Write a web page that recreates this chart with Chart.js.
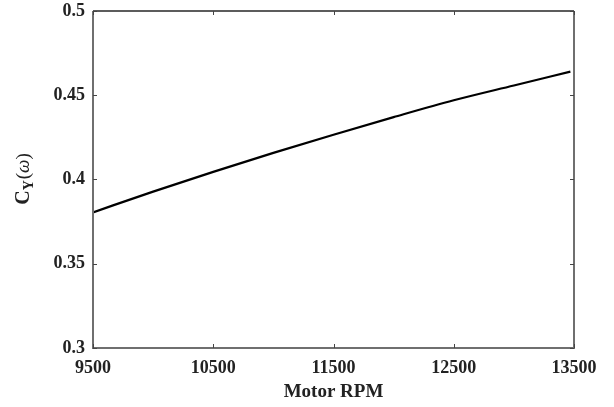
<!DOCTYPE html>
<html>
<head>
<meta charset="utf-8">
<script src="https://cdn.jsdelivr.net/npm/chart.js@4.4.1/dist/chart.umd.min.js"></script>
<style>
  html, body { margin: 0; padding: 0; background: #fff; }
  #wrap { width: 614px; height: 407px; }
</style>
</head>
<body>
<div id="wrap"><canvas id="chart"></canvas></div>
<script>
// values
var rpm = [9500, 10000, 10500, 11000, 11500, 12000, 12500, 13000, 13470];
var cy = [0.3805, 0.3928, 0.4045, 0.4158, 0.4266, 0.4370, 0.4470, 0.4558, 0.4640];

var xTicks = [9500, 10500, 11500, 12500, 13500];
var yTicks = [0.3, 0.35, 0.4, 0.45, 0.5];
var yTickLabels = ['0.3', '0.35', '0.4', '0.45', '0.5'];

var SERIF = '"Liberation Serif", "Times New Roman", serif';

// box + inward ticks, matlab style
var boxPlugin = {
	id: 'box',
	afterDraw: function(chart){
		var ctx = chart.ctx, a = chart.chartArea;
		var xs = chart.scales.x, ys = chart.scales.y;
		ctx.save();
		ctx.strokeStyle = '#6f6f6f';
		ctx.lineWidth = 2;
		ctx.beginPath();
		ctx.moveTo(a.left, a.top);
		ctx.lineTo(a.left, a.bottom);
		ctx.lineTo(a.right, a.bottom);
		ctx.lineTo(a.right, a.top);
		ctx.stroke();
		ctx.strokeStyle = '#262626';
		ctx.lineWidth = 1.5;
		ctx.beginPath();
		ctx.moveTo(a.left, a.top);
		ctx.lineTo(a.right, a.top);
		ctx.stroke();

		ctx.strokeStyle = '#444';
		ctx.lineWidth = 1;
		ctx.beginPath();
		xTicks.forEach(function(v){
			var px = Math.round(xs.getPixelForValue(v)) + 0.5;
			ctx.moveTo(px, a.bottom); ctx.lineTo(px, a.bottom - 4);
			ctx.moveTo(px, a.top); ctx.lineTo(px, a.top + 4);
		});
		yTicks.forEach(function(v){
			var py = Math.round(ys.getPixelForValue(v)) + 0.5;
			ctx.moveTo(a.left, py); ctx.lineTo(a.left + 4, py);
			ctx.moveTo(a.right, py); ctx.lineTo(a.right - 4, py);
		});
		ctx.stroke();

		// y title C_Y(w)
		ctx.translate(23, (a.top + a.bottom) / 2);
		ctx.rotate(-Math.PI / 2);
		ctx.fillStyle = '#222';
		ctx.textBaseline = 'alphabetic';
		var parts = [
			{ t: 'C', f: 'bold 20px ' + SERIF, dy: 0 },
			{ t: 'Y', f: 'bold 14px ' + SERIF, dy: 4 },
			{ t: '(', f: '19px ' + SERIF, dy: 0 },
			{ t: '\u03c9', f: 'italic 19px ' + SERIF, dy: 0 },
			{ t: ')', f: '19px ' + SERIF, dy: 0 }
		];
		var total = 0;
		parts.forEach(function(p){ ctx.font = p.f; p.w = ctx.measureText(p.t).width; total += p.w; });
		var x = -total / 2;
		parts.forEach(function(p){
			ctx.font = p.f;
			ctx.fillText(p.t, x, 6 + p.dy);
			x += p.w + (p.t == 'Y' ? 1 : 0);
		});
		ctx.restore();
	}
};

new Chart(document.getElementById('chart'), {
	type: 'line',
	data: {
		datasets: [{
			data: rpm.map(function(v, i){ return { x: v, y: cy[i] }; }),
			borderColor: '#000',
			borderWidth: 2.2,
			pointRadius: 0,
			cubicInterpolationMode: 'monotone',
			fill: false
		}]
	},
	options: {
		responsive: true,
		maintainAspectRatio: false,
		animation: false,
		layout: { padding: { left: 0, right: 40, top: 11, bottom: 0 } },
		plugins: { legend: { display: false }, tooltip: { enabled: false } },
		scales: {
			x: {
				type: 'linear',
				min: 9500,
				max: 13500,
				afterBuildTicks: function(scale){ scale.ticks = xTicks.map(function(v){ return { value: v }; }); },
				afterFit: function(scale){ scale.height = 59; },
				grid: { display: false, drawTicks: false },
				border: { display: false },
				ticks: {
					padding: 10,
					color: '#222',
					font: { family: SERIF, size: 18, weight: 'bold' },
					maxRotation: 0,
					callback: function(v){ return String(v); }
				},
				title: {
					display: true,
					text: 'Motor RPM',
					color: '#222',
					font: { family: SERIF, size: 19, weight: 'bold' },
					padding: { top: 0, bottom: 4 }
				}
			},
			y: {
				min: 0.3,
				max: 0.5,
				afterBuildTicks: function(scale){ scale.ticks = yTicks.map(function(v){ return { value: v }; }); },
				afterFit: function(scale){
					scale.width = 93;
					scale.paddingTop = 0;
					scale.paddingBottom = 0;
				},
				grid: { display: false, drawTicks: false },
				border: { display: false },
				ticks: {
					padding: 8,
					color: '#222',
					font: { family: SERIF, size: 18, weight: 'bold' },
					callback: function(v){ return yTickLabels[yTicks.indexOf(v)]; }
				}
			}
		}
	},
	plugins: [boxPlugin]
});
</script>
</body>
</html>
